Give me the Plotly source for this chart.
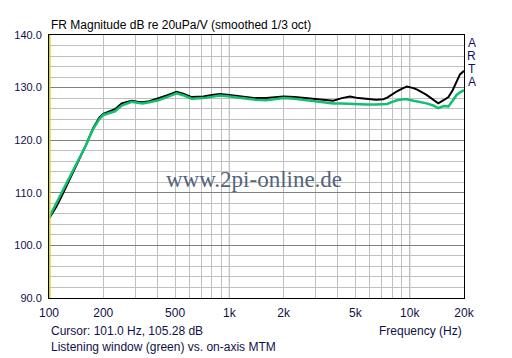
import plotly.graph_objects as go

freqs = [100, 110, 120, 130, 145, 160, 175, 190, 200, 215, 232, 253, 270, 287, 310, 330, 360, 404,
         450, 510, 560, 618, 717, 800, 887, 1000, 1100, 1250, 1400, 1600, 1800, 2000, 2300, 2700,
         3200, 3770, 4200, 4670, 5200, 5800, 6500, 7140, 7500, 8000, 8500, 9200, 9650, 10500,
         11000, 12400, 13500, 14400, 15400, 16400, 17300, 18200, 19000, 20000]

listening_window = [105.3, 108.1, 110.6, 112.9, 116.0, 119.0, 122.0, 124.0, 124.8, 125.2, 125.5, 126.6,
                    127.0, 127.3, 127.1, 127.0, 127.2, 127.6, 128.2, 128.9, 128.5, 127.9, 128.0, 128.3,
                    128.5, 128.3, 128.1, 127.9, 127.7, 127.6, 127.8, 128.0, 127.9, 127.6, 127.3, 127.0,
                    127.0, 126.9, 126.8, 126.8, 126.8, 126.8, 126.9, 127.3, 127.6, 127.8, 127.8, 127.5,
                    127.4, 127.0, 126.6, 126.1, 126.5, 126.4, 127.5, 128.6, 129.1, 129.5]

on_axis = [105.1, 107.4, 110.0, 112.5, 115.8, 119.0, 122.2, 124.3, 125.0, 125.5, 125.9, 127.0,
           127.3, 127.5, 127.3, 127.2, 127.4, 127.9, 128.5, 129.2, 128.8, 128.2, 128.3, 128.6,
           128.8, 128.6, 128.4, 128.2, 128.0, 128.0, 128.2, 128.3, 128.2, 128.0, 127.8, 127.5,
           128.0, 128.3, 128.0, 127.8, 127.7, 127.8, 128.1, 128.7, 129.3, 129.9, 130.2, 129.9,
           129.6, 128.6, 127.7, 127.0, 127.6, 128.2, 129.5, 131.2, 132.5, 133.2]

x_tick_vals = [100, 200, 500, 1000, 2000, 5000, 10000, 20000]
x_tick_text = ["100", "200", "500", "1k", "2k", "5k", "10k", "20k"]
x_minor_vals = [300, 400, 600, 700, 800, 900, 3000, 4000, 6000, 7000, 8000, 9000]
x_major_grid = [1000, 10000]
cursor_freq = 101.0

FONT = "Liberation Sans, Arial, sans-serif"
TXT = "#10104a"

fig = go.Figure()
fig.add_trace(go.Scatter(x=freqs, y=on_axis, mode="lines",
                         line=dict(color="#000000", width=2), name="on-axis MTM"))
fig.add_trace(go.Scatter(x=freqs, y=listening_window, mode="lines",
                         line=dict(color="#10c070", width=2.5), name="Listening window"))

shapes = []
for f in x_major_grid:
    shapes.append(dict(type="line", xref="x", yref="paper", x0=f, x1=f, y0=0, y1=1,
                       line=dict(color="#808080", width=1), layer="below"))
shapes.append(dict(type="line", xref="x", yref="paper", x0=cursor_freq, x1=cursor_freq, y0=0, y1=1,
                   line=dict(color="#d0d000", width=1.5), layer="above"))

# page body has an 8px margin, so the figure is 8px smaller and offset
fig.update_layout(
    width=504, height=350,
    margin=dict(l=41, r=48, t=27, b=60, autoexpand=False),
    paper_bgcolor="white", plot_bgcolor="white",
    showlegend=False,
    font=dict(family=FONT, size=12, color=TXT),
    shapes=shapes,
    xaxis=dict(type="log", range=[2, 4.30103], automargin=False,
               tickmode="array", tickvals=x_tick_vals, ticktext=x_tick_text,
               showgrid=True, gridcolor="#c0c0c0", gridwidth=1,
               minor=dict(tickmode="array", tickvals=x_minor_vals, showgrid=True,
                          gridcolor="#c0c0c0", gridwidth=1),
               ticks="", showline=True, linecolor="black", linewidth=1, mirror=True,
               zeroline=False, tickfont=dict(size=12, color=TXT), ticklabelstandoff=4),
    yaxis=dict(range=[90, 140], tickmode="linear", tick0=90, dtick=10, tickformat=".1f",
               automargin=False,
               showgrid=True, gridcolor="#808080", gridwidth=1,
               minor=dict(dtick=2, tick0=90, showgrid=True, gridcolor="#c0c0c0", gridwidth=1),
               ticks="", showline=True, linecolor="black", linewidth=1, mirror=True,
               zeroline=False, tickfont=dict(size=11, color=TXT), ticklabelstandoff=4),
)

def ypaper(py):
    return (298 - py) / 263.0

annotations = [
    dict(text="FR Magnitude dB re 20uPa/V (smoothed 1/3 oct)", xref="paper", yref="paper",
         x=0.0, y=ypaper(25), xanchor="left", yanchor="middle", showarrow=False,
         font=dict(size=12, color="#000000")),
    dict(text="Cursor: 101.0 Hz, 105.28 dB", xref="paper", yref="paper",
         x=0.0, y=ypaper(331), xanchor="left", yanchor="middle", showarrow=False,
         font=dict(size=12, color=TXT)),
    dict(text="Frequency (Hz)", xref="paper", yref="paper",
         x=1.0, y=ypaper(331), xanchor="right", yanchor="middle", showarrow=False,
         font=dict(size=12, color=TXT)),
    dict(text="Listening window (green) vs. on-axis MTM", xref="paper", yref="paper",
         x=0.0, y=ypaper(347), xanchor="left", yanchor="middle", showarrow=False,
         font=dict(size=12, color=TXT)),
    dict(text="www.2pi-online.de", xref="paper", yref="paper",
         x=(254 - 49) / 415.0, y=ypaper(179), xanchor="center", yanchor="middle", showarrow=False,
         font=dict(size=23, color="#55647a", family="Liberation Serif, Times New Roman, serif")),
]
for i, ch in enumerate(["A", "R", "T", "A"]):
    annotations.append(dict(text=ch, xref="paper", yref="paper",
                            x=(472 - 49) / 415.0, y=ypaper(43 + 13 * i), xanchor="center",
                            yanchor="middle", showarrow=False, height=12,
                            font=dict(size=12, color="#101060")))
fig.update_layout(annotations=annotations)

fig.write_html("out.html")
